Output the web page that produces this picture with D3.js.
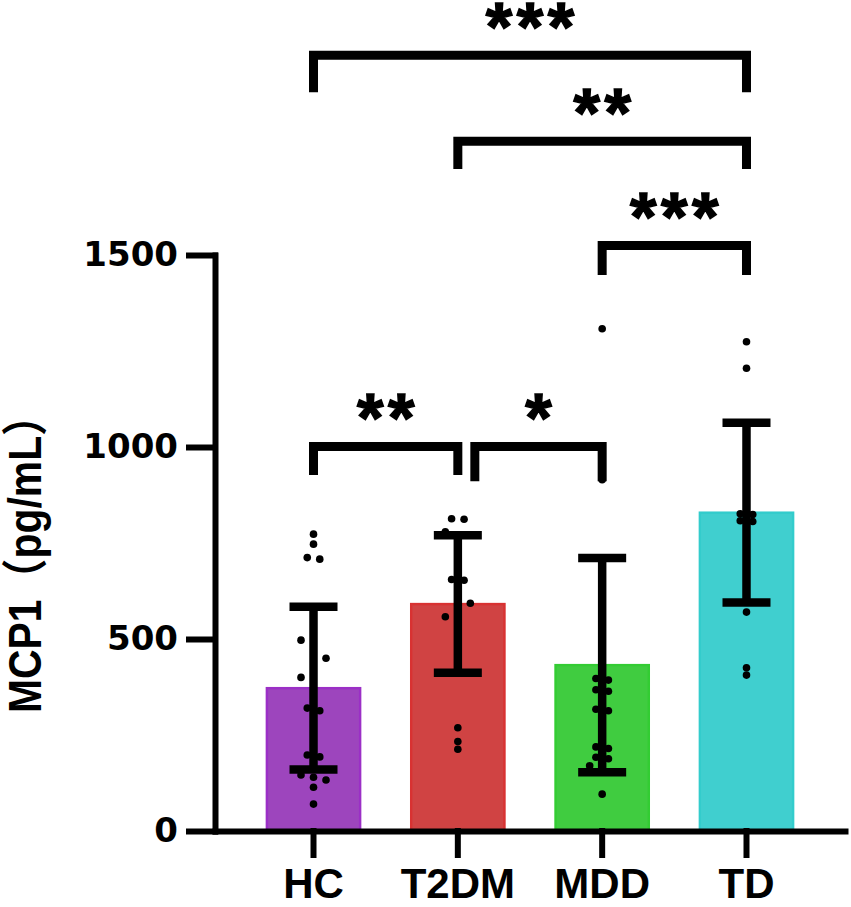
<!DOCTYPE html>
<html>
<head>
<meta charset="utf-8">
<script src="https://cdn.jsdelivr.net/npm/d3@7"></script>
<style>
  body { margin: 0; background: #fff; }
</style>
</head>
<body>
<div id="chart"></div>
<script>
// Group names, bar means and SDs
const groups = ["HC", "T2DM", "MDD", "TD"];
const means = [372, 591, 432, 829];
const sds = [212, 179, 279, 234];

// Individual values per group
const hcDots = [773, 747, 712, 708, 497, 450, 400, 320, 313, 198, 193, 146, 140, 133, 114, 70];
const t2dmDots = [813, 812, 779, 655, 653, 593, 558, 269, 233, 213];
const mddDots = [1308, 915, 397, 393, 368, 364, 317, 313, 219, 215, 192, 188, 170, 96];
const tdDots = [1274, 1205, 826, 824, 808, 806, 570, 425, 406];

const yTicks = [0, 500, 1000, 1500];

// Significance brackets: group indices, bar height, leg end, label
const compA = [0, 1, 2, 1, 0];
const compB = [1, 2, 3, 3, 3];
const compLevel = [1001, 1001, 1525, 1796, 2020];
const compLeg = [927, 911, 1448, 1724, 1924];
const compLabel = ["**", "*", "***", "**", "***"];

const colors = ["#9d45bd", "#d04343", "#40cc40", "#40cfcf"];
const edges = ["#9b2fc6", "#d83232", "#33cc33", "#33cccc"];

function drawChart() {
    const width = 851, height = 907;
    const svg = d3.select("#chart").append("svg")
        .attr("width", width)
        .attr("height", height);

    const xScale = d3.scaleBand()
        .domain(groups)
        .range([215, 845])
        .paddingInner(0.337)
        .paddingOuter(0.351)
        .align(0.5);

    const yScale = d3.scaleLinear()
        .domain([0, 1500])
        .range([831, 255]);

    const center = g => xScale(g) + xScale.bandwidth() / 2;

    const data = groups.map((g, i) => ({
        group: g, mean: means[i], sd: sds[i],
        dots: [hcDots, t2dmDots, mddDots, tdDots][i],
        color: colors[i], edge: edges[i]
    }));

    // bars
    svg.selectAll(".bar")
        .data(data)
        .enter().append("rect")
        .attr("class", "bar")
        .attr("x", d => xScale(d.group) + 1.2)
        .attr("width", xScale.bandwidth() - 2.4)
        .attr("y", d => yScale(d.mean))
        .attr("height", d => yScale(0) - yScale(d.mean))
        .attr("fill", d => d.color)
        .attr("stroke", d => d.edge)
        .attr("stroke-width", 2.4);

    // scatter points, spread sideways when they crowd
    const step = 12.5, gap = 5.5;
    data.forEach(d => {
        const cx = center(d.group);
        const sorted = d.dots.slice().sort((a, b) => b - a);
        const clusters = [];
        sorted.forEach(v => {
            const last = clusters.length ? clusters[clusters.length - 1] : null;
            if (last && yScale(v) - yScale(last[last.length - 1]) < gap) last.push(v);
            else clusters.push([v]);
        });
        const pts = [];
        let side = -1;
        clusters.forEach(c => {
            if (c.length > 1) {
                c.forEach((v, k) => pts.push({ v, x: cx + (k - (c.length - 1) / 2) * step }));
            } else {
                const v = c[0];
                const inside = v <= d.mean + d.sd + 12 && v >= d.mean - d.sd - 12;
                if (inside) { pts.push({ v, x: cx + side * step }); side = -side; }
                else pts.push({ v, x: cx });
            }
        });
        svg.append("g").selectAll("circle")
            .data(pts)
            .enter().append("circle")
            .attr("cx", p => p.x)
            .attr("cy", p => yScale(p.v))
            .attr("r", 3.8)
            .attr("fill", "#000");
    });

    // error bars (mean ± SD)
    const err = svg.append("g").attr("stroke", "#000").attr("stroke-width", 8.5);
    data.forEach(d => {
        const cx = center(d.group);
        const top = yScale(d.mean + d.sd), bot = yScale(d.mean - d.sd);
        err.append("line").attr("x1", cx).attr("x2", cx).attr("y1", top).attr("y2", bot);
        err.append("line").attr("x1", cx - 24).attr("x2", cx + 24).attr("y1", top).attr("y2", top);
        err.append("line").attr("x1", cx - 24).attr("x2", cx + 24).attr("y1", bot).attr("y2", bot);
    });

    // axes
    const yAxis = svg.append("g")
        .attr("transform", "translate(215,0)")
        .call(d3.axisLeft(yScale).tickValues(yTicks).tickFormat(d3.format("d"))
            .tickSize(26).tickSizeOuter(0).tickPadding(11));
    yAxis.selectAll("text")
        .style("font-family", "'DejaVu Sans', sans-serif")
        .style("font-weight", "bold")
        .style("font-size", "34px")
        .attr("fill", "#000");

    const xAxis = svg.append("g")
        .attr("transform", "translate(0,831)")
        .call(d3.axisBottom(xScale).tickSize(24).tickSizeOuter(0).tickPadding(13));
    xAxis.selectAll("text")
        .style("font-family", "'Liberation Sans', Arial, sans-serif")
        .style("font-weight", "bold")
        .style("font-size", "42px")
        .attr("fill", "#000");

    svg.selectAll(".domain, .tick line")
        .attr("stroke", "#000")
        .attr("stroke-width", 6)
        .attr("stroke-linecap", "square");

    // y axis title
    svg.append("text")
        .attr("transform", "translate(41,554) rotate(-90)")
        .attr("text-anchor", "middle")
        .attr("textLength", 318)
        .attr("lengthAdjust", "spacingAndGlyphs")
        .style("font-family", "'Liberation Sans', Arial, 'Noto Sans CJK SC', sans-serif")
        .style("font-weight", "bold")
        .style("font-size", "46px")
        .text("MCP1（pg/mL）");

    // significance brackets; a leg that would sit on another bracket's leg
    // at the same height is nudged right
    const br = svg.append("g");
    const starSize = 68;
    compA.forEach((a, i) => {
        const shared = compB.some((b, j) => j !== i && b === a && compLevel[j] === compLevel[i]);
        const x1 = center(groups[a]) + (shared ? 17 : 0);
        const x2 = center(groups[compB[i]]);
        const yl = yScale(compLevel[i]), yg = yScale(compLeg[i]);
        br.append("path")
            .attr("d", `M${x1},${yg}V${yl}H${x2}V${yg}`)
            .attr("fill", "none")
            .attr("stroke", "#000")
            .attr("stroke-width", 9)
            .attr("stroke-linejoin", "miter");
        const n = compLabel[i].length;
        const mid = (x1 + x2) / 2;
        for (let k = 0; k < n; k++) {
            br.append("text")
                .attr("x", mid + (k - (n - 1) / 2) * 31)
                .attr("y", yl - 36 + 0.45 * starSize)
                .attr("text-anchor", "middle")
                .attr("stroke", "#000")
                .attr("stroke-width", 1.5)
                .style("font-family", "'Liberation Sans', Arial, sans-serif")
                .style("font-weight", "bold")
                .style("font-size", starSize + "px")
                .text("*");
        }
    });
}

drawChart();
</script>
</body>
</html>
